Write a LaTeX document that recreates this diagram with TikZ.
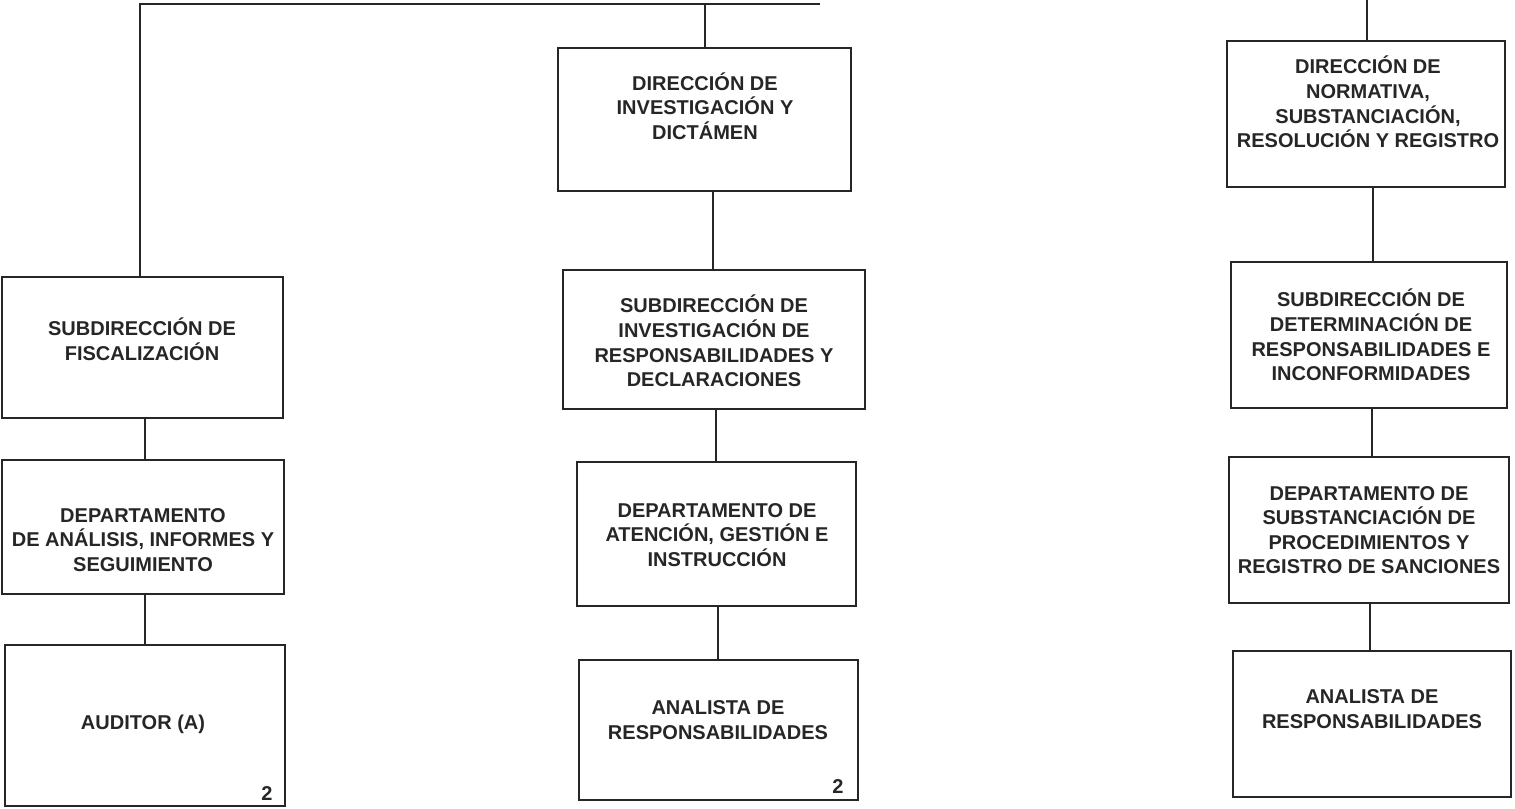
\documentclass[tikz,border=0pt]{standalone}
\usepackage{fontspec}
\setmainfont{Liberation Sans}
\begin{document}
\begin{tikzpicture}[x=0.75pt,y=-0.75pt,
  box/.style={draw=black!85,line width=1.3pt,inner sep=0pt,outer sep=0pt,fill=none},
  lbl/.style={align=center,inner sep=0pt,font=\fontsize{15pt}{18.4pt}\selectfont\bfseries,text=black!85},
  num/.style={inner sep=0pt,font=\fontsize{15pt}{18pt}\selectfont\bfseries,text=black!85},
  wire/.style={draw=black!85,line width=1.3pt}]
\useasboundingbox (0,0) rectangle (1515,808);
\newcommand\mkbox[5]{\node[box,minimum width={(#4-#2)*0.75pt},minimum height={(#5-#3)*0.75pt}] (#1) at ({(#2+#4)/2},{(#3+#5)/2}) {};}
% left column
\mkbox{a1}{2}{277}{283}{418}
\mkbox{a2}{2}{460}{284}{594}
\mkbox{a3}{5}{645}{285}{806}
% middle column
\mkbox{b0}{558}{48}{851}{191}
\mkbox{b1}{563}{270}{865}{409}
\mkbox{b2}{577}{462}{856}{606}
\mkbox{b3}{579}{660}{858}{800}
% right column
\mkbox{c0}{1227}{41}{1505}{187}
\mkbox{c1}{1231}{262}{1507}{408}
\mkbox{c2}{1229}{457}{1509}{603}
\mkbox{c3}{1233}{651}{1511}{797}
% texts
\node[lbl] (ta1) at (142,339) {SUBDIRECCIÓN DE\\FISCALIZACIÓN};
\node[lbl] (ta2) at (143,540) {DEPARTAMENTO\\DE ANÁLISIS, INFORMES Y\\SEGUIMIENTO};
\node[lbl] (ta3) at (143,724) {AUDITOR (A)};
\node[num] (na3) at (267,793) {2};
\node[lbl] (tb0) at (705,106) {DIRECCIÓN DE\\INVESTIGACIÓN Y\\DICTÁMEN};
\node[lbl] (tb1) at (714,341) {SUBDIRECCIÓN DE\\INVESTIGACIÓN DE\\RESPONSABILIDADES Y\\DECLARACIONES};
\node[lbl] (tb2) at (717,535) {DEPARTAMENTO DE\\ATENCIÓN, GESTIÓN E\\INSTRUCCIÓN};
\node[lbl] (tb3) at (718,720) {ANALISTA DE\\RESPONSABILIDADES};
\node[num] (nb3) at (838,786) {2};
\node[lbl] (tc0) at (1368,102) {DIRECCIÓN DE\\NORMATIVA,\\SUBSTANCIACIÓN,\\RESOLUCIÓN Y REGISTRO};
\node[lbl] (tc1) at (1371,335) {SUBDIRECCIÓN DE\\DETERMINACIÓN DE\\RESPONSABILIDADES E\\INCONFORMIDADES};
\node[lbl] (tc2) at (1369,530) {DEPARTAMENTO DE\\SUBSTANCIACIÓN DE\\PROCEDIMIENTOS Y\\REGISTRO DE SANCIONES};
\node[lbl] (tc3) at (1372,709) {ANALISTA DE\\RESPONSABILIDADES};
% top connectors
\coordinate (topL) at (140,4);
\coordinate (topE) at (820,4);
\coordinate (topR) at (1367,0);
\draw[wire] (a1.north -| topL) -- (topL) -- (topE);
\draw[wire] (b0.north -| 705,0) -- (705,4);
\draw[wire] (c0.north -| topR) -- (topR);
% vertical connectors
\draw[wire] (a1.south -| 145,0) -- (a2.north -| 145,0);
\draw[wire] (a2.south -| 145,0) -- (a3.north -| 145,0);
\draw[wire] (b0.south -| 713,0) -- (b1.north -| 713,0);
\draw[wire] (b1.south -| 716,0) -- (b2.north -| 716,0);
\draw[wire] (b2.south -| 718,0) -- (b3.north -| 718,0);
\draw[wire] (c0.south -| 1373,0) -- (c1.north -| 1373,0);
\draw[wire] (c1.south -| 1372,0) -- (c2.north -| 1372,0);
\draw[wire] (c2.south -| 1370,0) -- (c3.north -| 1370,0);
\end{tikzpicture}
\end{document}
